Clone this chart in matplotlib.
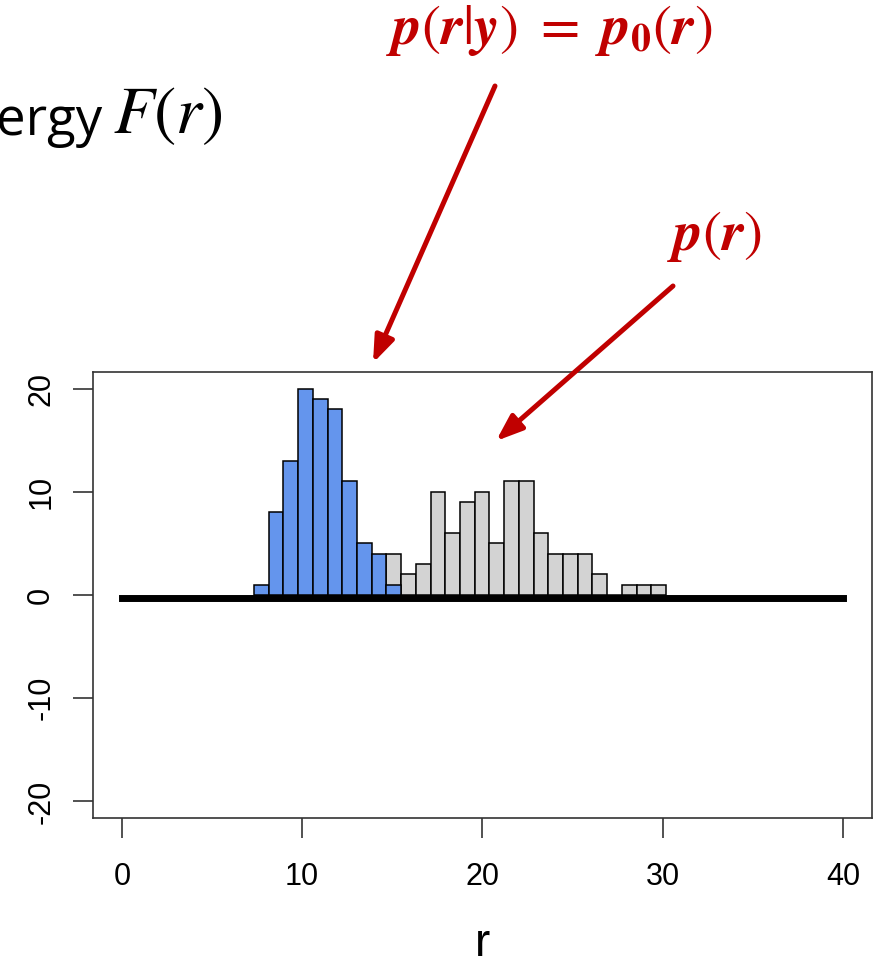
import numpy as np
import matplotlib
matplotlib.use("Agg")
from matplotlib import pyplot as plt

# histogram data (counts per bin)
bin_start = 7.33
bin_width = 0.816
prior_counts = [0, 0, 0, 0, 0, 0, 0, 0, 0, 4, 2, 3, 10, 6, 9, 10, 5, 11, 11, 6, 4, 4, 4, 2, 0, 1, 1, 1]
post_counts = [1, 8, 13, 20, 19, 18, 11, 5, 4, 1]

# thick base line (free energy curve, flat at zero)
base_x = [0, 40]
base_y = [-0.3, -0.3]

x_ticks = [0, 10, 20, 30, 40]
y_ticks = [-20, -10, 0, 10, 20]

RED = "#C00000"
W, H = 884, 965

plt.rcParams['font.family'] = ['Liberation Sans', 'DejaVu Sans']
plt.rcParams['mathtext.fontset'] = 'stix'
plt.rcParams['axes.unicode_minus'] = False


def px(x, y):
    # pixel position (from top left) to figure fraction
    return x / W, 1 - y / H


def histPlot():
    fig = plt.figure(figsize=(W / 100, H / 100), dpi=100)
    ax = fig.add_axes([93 / W, 147 / H, 779 / W, 446 / H])

    edges = bin_start + bin_width * np.arange(len(prior_counts) + 1)
    ax.bar(edges[:-1], prior_counts, width=bin_width, align='edge',
           color='#D3D3D3', edgecolor='black', linewidth=1.1, zorder=2)
    ax.bar(edges[:len(post_counts)], post_counts, width=bin_width, align='edge',
           color='#6495ED', edgecolor='black', linewidth=1.1, zorder=3)
    ax.plot(base_x, base_y, color='black', linewidth=5, solid_capstyle='projecting', zorder=4)

    ax.set_xlim(-1.6, 41.6)
    ax.set_ylim(-21.6, 21.6)
    ax.set_xticks(x_ticks)
    ax.set_yticks(y_ticks)
    for s in ax.spines.values():
        s.set_color('#333333')
        s.set_linewidth(1.2)
    ax.tick_params(axis='both', direction='out', length=14.5, width=1.2, color='#333333',
                   labelsize=22)
    ax.tick_params(axis='x', pad=17)
    ax.tick_params(axis='y', pad=12, labelrotation=90)
    for lab in ax.get_yticklabels():
        lab.set_va('center')
    ax.set_xlabel('r', fontsize=33, labelpad=22)

    # title fragment at the top left (cut off by the page edge)
    fig.text(*px(102, 135), 'Free energy', fontsize=38, family=['Open Sans', 'DejaVu Sans'],
             ha='right', va='baseline', color='black')
    fig.text(*px(113, 133), '$F(r)$', fontsize=48, ha='left', va='baseline', color='black')

    # red labels and arrows
    fig.text(*px(386, 44), r'$\mathbfit{p}(\mathbfit{r}|\mathbfit{y})\ =\ \mathbfit{p}_{\mathbf{0}}(\mathbfit{r})$',
             fontsize=41, color=RED, ha='left', va='baseline')
    fig.text(*px(667, 250), r'$\mathbfit{p}(\mathbfit{r})$', fontsize=41,
             color=RED, ha='left', va='baseline')

    arrows = [((495, 86), (373, 363)), ((673, 286), (496, 441))]
    for tail, tip in arrows:
        ax.annotate('', xy=px(*tip), xytext=px(*tail), xycoords='figure fraction',
                    textcoords='figure fraction', annotation_clip=False,
                    arrowprops=dict(arrowstyle='-|>,head_length=1.6,head_width=0.6',
                                    color=RED, lw=3.6, shrinkA=0, shrinkB=0))

    plt.savefig("out.png", dpi=100)


if __name__ == "__main__":
    histPlot()
